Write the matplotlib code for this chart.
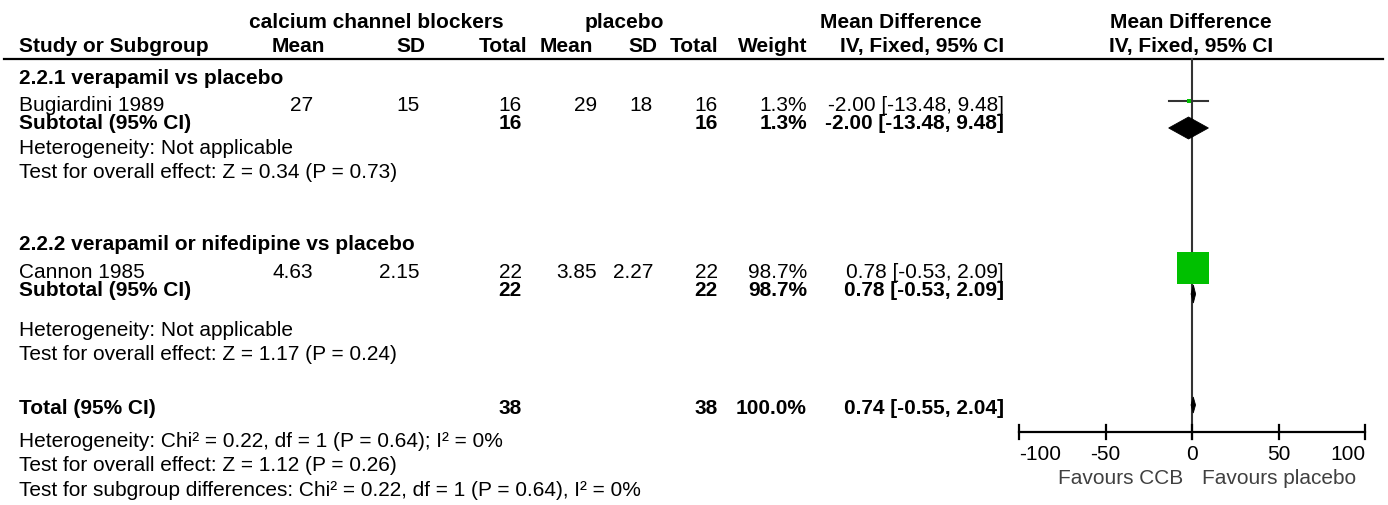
import matplotlib
matplotlib.use('Agg')
import matplotlib.pyplot as plt
import numpy as np

plt.rcParams['font.family'] = ['Liberation Sans', 'DejaVu Sans']

##########################################################
#                      Study data                        #
##########################################################

studies = ['Bugiardini 1989', 'Cannon 1985']
groups = ['2.2.1 verapamil vs placebo', '2.2.2 verapamil or nifedipine vs placebo']

ccb_mean = [27, 4.63]
ccb_sd = [15, 2.15]
ccb_n = [16, 22]
pl_mean = [29, 3.85]
pl_sd = [18, 2.27]
pl_n = [16, 22]
weights = [1.3, 98.7]          # percent
md = [-2.00, 0.78]
md_lo = [-13.48, -0.53]
md_hi = [9.48, 2.09]

# subtotals (one study per subgroup) and overall
sub_md = [-2.00, 0.78]
sub_lo = [-13.48, -0.53]
sub_hi = [9.48, 2.09]
tot_md, tot_lo, tot_hi = 0.74, -0.55, 2.04
tot_ccb_n, tot_pl_n = 38, 38

sub_notes = [['Heterogeneity: Not applicable',
              'Test for overall effect: Z = 0.34 (P = 0.73)'],
             ['Heterogeneity: Not applicable',
              'Test for overall effect: Z = 1.17 (P = 0.24)']]
tot_notes = ['Heterogeneity: Chi² = 0.22, df = 1 (P = 0.64); I² = 0%',
             'Test for overall effect: Z = 1.12 (P = 0.26)',
             'Test for subgroup differences: Chi² = 0.22, df = 1 (P = 0.64), I² = 0%']

axis_ticks = [-100, -50, 0, 50, 100]

##########################################################
#                       Layout                           #
##########################################################

W, H = 1388, 506
fs = 15
green = '#00c000'
dark = '#333333'
dy = 2   # text nudge (pixels)

# row positions (pixels from top)
group_y = [76, 243]
study_y = [103, 270]
sub_y = [121, 288]
note_y = [[146, 170], [329, 353]]
tot_y = 407
tot_note_y = [440, 464, 489]

# column right edges (pixels)
col_x = {'cm': 313, 'cs': 420, 'cn': 522, 'pm': 597, 'ps': 653, 'pn': 718,
         'w': 807, 'ci': 1004}

fig = plt.figure(figsize=(W / 100, H / 100), dpi=100)
bg = fig.add_axes([0, 0, 1, 1])
bg.set_xlim(0, W)
bg.set_ylim(H, 0)
bg.axis('off')


def txt(x, y, s, ha='left', bold=False, color='black'):
    bg.text(x, y + dy, s, ha=ha, va='center', fontsize=fs,
            fontweight='bold' if bold else 'normal', color=color)


def ci_str(m, lo, hi):
    return f'{m:.2f} [{lo:.2f}, {hi:.2f}]'


# header
txt(376, 20, 'calcium channel blockers', ha='center', bold=True)
txt(624, 20, 'placebo', ha='center', bold=True)
txt(901, 20, 'Mean Difference', ha='center', bold=True)
txt(1191, 20, 'Mean Difference', ha='center', bold=True)
txt(19, 44, 'Study or Subgroup', bold=True)
for key, lab in [('cm', 'Mean'), ('cs', 'SD'), ('cn', 'Total'), ('pm', 'Mean'),
                 ('ps', 'SD'), ('pn', 'Total'), ('w', 'Weight'),
                 ('ci', 'IV, Fixed, 95% CI')]:
    off = {'cm': 12, 'cs': 5, 'cn': 5, 'pm': -4, 'ps': 4}.get(key, 0)
    txt(col_x[key] + off, 44, lab, ha='right', bold=True)
txt(1191, 44, 'IV, Fixed, 95% CI', ha='center', bold=True)
bg.plot([4, 1383], [60, 60], color='black', lw=1.6)

# subgroups
for i in range(len(studies)):
    txt(19, group_y[i], groups[i], bold=True)
    y = study_y[i]
    txt(19, y, studies[i])
    txt(col_x['cm'], y, f'{ccb_mean[i]:g}', ha='right')
    txt(col_x['cs'], y, f'{ccb_sd[i]:g}', ha='right')
    txt(col_x['cn'], y, f'{ccb_n[i]}', ha='right')
    txt(col_x['pm'], y, f'{pl_mean[i]:g}', ha='right')
    txt(col_x['ps'], y, f'{pl_sd[i]:g}', ha='right')
    txt(col_x['pn'], y, f'{pl_n[i]}', ha='right')
    txt(col_x['w'], y, f'{weights[i]}%', ha='right')
    txt(col_x['ci'], y, ci_str(md[i], md_lo[i], md_hi[i]), ha='right')

    y = sub_y[i]
    txt(19, y, 'Subtotal (95% CI)', bold=True)
    txt(col_x['cn'], y, f'{ccb_n[i]}', ha='right', bold=True)
    txt(col_x['pn'], y, f'{pl_n[i]}', ha='right', bold=True)
    txt(col_x['w'], y, f'{weights[i]}%', ha='right', bold=True)
    txt(col_x['ci'], y, ci_str(sub_md[i], sub_lo[i], sub_hi[i]), ha='right', bold=True)
    for s, ny in zip(sub_notes[i], note_y[i]):
        txt(19, ny, s)

# total
txt(19, tot_y, 'Total (95% CI)', bold=True)
txt(col_x['cn'], tot_y, f'{tot_ccb_n}', ha='right', bold=True)
txt(col_x['pn'], tot_y, f'{tot_pl_n}', ha='right', bold=True)
txt(col_x['w'], tot_y, f'{sum(weights):.1f}%', ha='right', bold=True)
txt(col_x['ci'], tot_y, ci_str(tot_md, tot_lo, tot_hi), ha='right', bold=True)
for s, ny in zip(tot_notes, tot_note_y):
    txt(19, ny, s)

##########################################################
#                     Forest plot                        #
##########################################################

x0, x1 = 1019, 1365
ax = fig.add_axes([x0 / W, 0, (x1 - x0) / W, 1])
ax.set_xlim(-100, 100)
ax.set_ylim(H, 0)
ax.axis('off')
ax.patch.set_alpha(0)

axis_y = 433
ax.plot([0, 0], [60, axis_y + 7], color=dark, lw=1.5, zorder=1)

# study estimates
max_side = 23.0   # points for the largest weight
for i in range(len(studies)):
    y = study_y[i] - 1
    ax.plot([md_lo[i], md_hi[i]], [y, y], color=dark, lw=1.5, zorder=2)
    side = max_side * np.sqrt(weights[i] / max(weights))
    ax.plot(md[i], y, marker='s', markersize=side, color=green,
            markeredgewidth=0, zorder=3)


def diamond(m, lo, hi, yc, h):
    ax.fill([lo, m, hi, m], [yc, yc - h, yc, yc + h], color='black', lw=0.6,
            zorder=4)


diamond(sub_md[0], sub_lo[0], sub_hi[0], 129, 11)
diamond(sub_md[1], sub_lo[1], sub_hi[1], 295, 9)
diamond(tot_md, tot_lo, tot_hi, 406, 8)

# x axis
ax.plot([-100, 100], [axis_y, axis_y], color='black', lw=1.6, clip_on=False)
for t in axis_ticks:
    ax.plot([t, t], [axis_y - 7, axis_y + 7], color='black', lw=1.6, clip_on=False)
    ha = 'left' if t == axis_ticks[0] else ('right' if t == axis_ticks[-1] else 'center')
    ax.text(t, 455, f'{t}', ha=ha, va='center', fontsize=fs)
ax.text(-5, 479, 'Favours CCB', ha='right', va='center', fontsize=fs, color='#404040')
ax.text(6, 479, 'Favours placebo', ha='left', va='center', fontsize=fs, color='#404040')

fig.savefig('out.png', dpi=100)
